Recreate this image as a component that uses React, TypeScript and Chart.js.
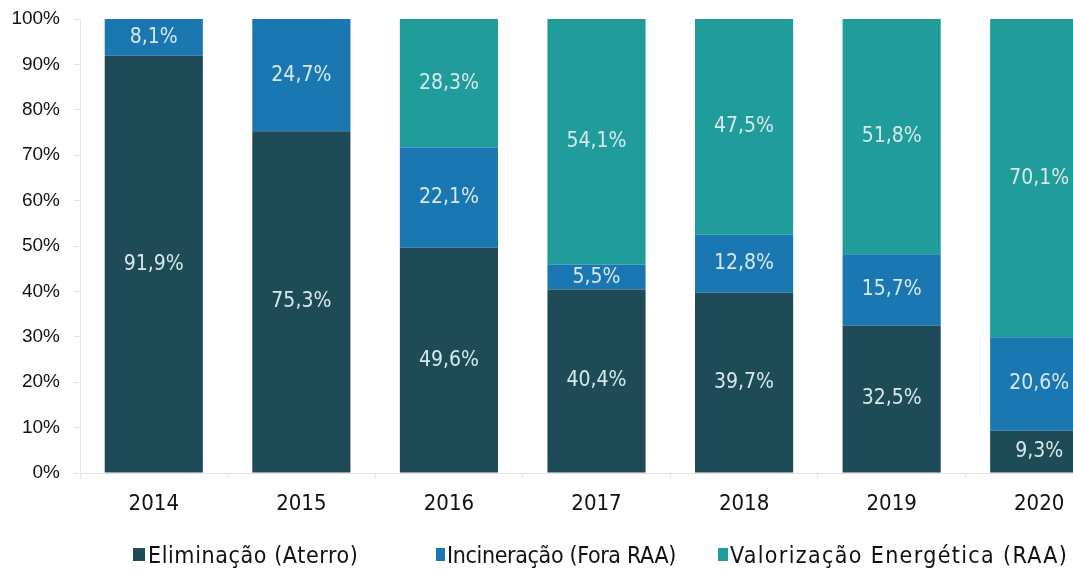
import React, { useEffect, useRef } from "react";
import { Chart, registerables } from "chart.js";

Chart.register(...registerables);

const years = ["2014", "2015", "2016", "2017", "2018", "2019", "2020"];
const eliminacao = [91.9, 75.3, 49.6, 40.4, 39.7, 32.5, 9.3];
const incineracao = [8.1, 24.7, 22.1, 5.5, 12.8, 15.7, 20.6];
const valorizacao = [0, 0, 28.3, 54.1, 47.5, 51.8, 70.1];
const yTicks = [0, 10, 20, 30, 40, 50, 60, 70, 80, 90, 100];

const seriesNames = ["Eliminação (Aterro)", "Incineração (Fora RAA)", "Valorização Energética (RAA)"];
const colors = ["#1f4a58", "#1b77b2", "#209d9b"];

const FONT = "'DejaVu Sans Condensed', 'DejaVu Sans', sans-serif";

const labelPlugin = {
  id: "segLabels",
  afterDatasetsDraw(chart: any) {
    const ctx = chart.ctx;
    ctx.save();
    ctx.fillStyle = "#d6e8ec";
    ctx.font = `21px ${FONT}`;
    ctx.textAlign = "center";
    ctx.textBaseline = "middle";
    chart.data.datasets.forEach((ds: any, di: number) => {
      const meta = chart.getDatasetMeta(di);
      meta.data.forEach((el: any, i: number) => {
        const v = ds.data[i];
        if (!v) return;
        const y = (el.y + el.base) / 2;
        ctx.fillText(v.toFixed(1).replace(".", ",") + "%", el.x, y);
      });
    });
    ctx.restore();
  },
};

export default function App() {
  const ref = useRef<HTMLCanvasElement>(null);
  useEffect(() => {
    const chart = new Chart(ref.current!, {
      type: "bar",
      data: {
        labels: years,
        datasets: [
          { label: seriesNames[0], data: eliminacao, backgroundColor: colors[0] },
          { label: seriesNames[1], data: incineracao, backgroundColor: colors[1] },
          { label: seriesNames[2], data: valorizacao, backgroundColor: colors[2] },
        ],
      },
      options: {
        animation: false,
        responsive: false,
        layout: { padding: { top: 19, left: 0, right: 0, bottom: 0 } },
        datasets: { bar: { categoryPercentage: 0.665, barPercentage: 1 } },
        plugins: { legend: { display: false }, tooltip: { enabled: false } },
        scales: {
          x: {
            stacked: true,
            grid: { display: true, drawOnChartArea: false, color: "#e6e6e6", tickLength: 6, offset: true },
            border: { color: "#e2e2e2" },
            ticks: { color: "#111", font: { family: FONT, size: 22 }, padding: 12 },
            afterFit(scale: any) { scale.height = 102; scale.paddingLeft = 0; scale.paddingRight = 0; },
          },
          y: {
            stacked: true,
            min: 0,
            max: 100,
            afterBuildTicks(scale: any) { scale.ticks = yTicks.map((v) => ({ value: v })); },
            grid: { display: true, drawOnChartArea: false, color: "#e6e6e6", tickLength: 6 },
            border: { color: "#e6e6e6" },
            ticks: {
              color: "#111",
              font: { family: "'Liberation Sans', Arial, sans-serif", size: 19 },
              padding: 14,
              callback: (v: any) => v + "%",
            },
            afterFit(scale: any) { scale.width = 80; scale.paddingTop = 0; scale.paddingBottom = 0; },
          },
        },
      },
      plugins: [labelPlugin],
    });
    return () => chart.destroy();
  }, []);

  const legendItems = [
    { mx: 133, mw: 12, tx: 148, ls: 0.6, color: colors[0], text: seriesNames[0] },
    { mx: 436, mw: 9, tx: 447, ls: -0.35, color: colors[1], text: seriesNames[1] },
    { mx: 718, mw: 10, tx: 730, ls: 1.35, color: colors[2], text: seriesNames[2] },
  ];

  return (
    <div style={{ position: "absolute", left: 0, top: 0, width: 1073, height: 575, overflow: "hidden", background: "#fff" }}>
      <canvas ref={ref} width={1113} height={575} style={{ position: "absolute", left: 0, top: 0, width: 1113, height: 575 }} />
      {legendItems.map((it, i) => (
        <React.Fragment key={i}>
          <span style={{ position: "absolute", left: it.mx, top: 548, width: it.mw, height: 13, background: it.color }} />
          <span style={{ position: "absolute", left: it.tx, top: 540, lineHeight: "30px", whiteSpace: "nowrap", fontFamily: FONT, fontSize: 23, letterSpacing: it.ls, color: "#111" }}>{it.text}</span>
        </React.Fragment>
      ))}
    </div>
  );
}
